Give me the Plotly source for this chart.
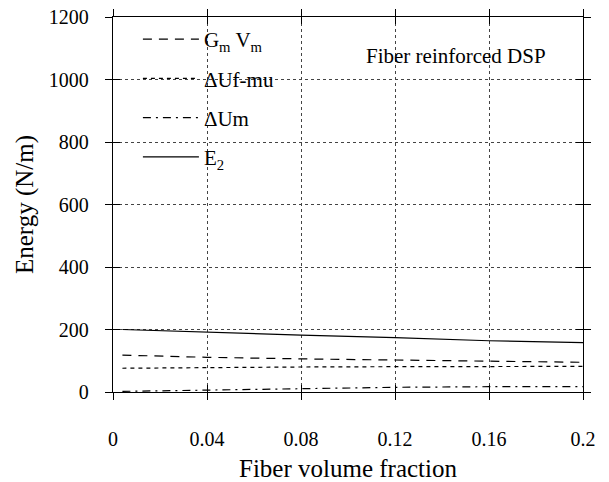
import plotly.graph_objects as go

x_vals = [0.004, 0.04, 0.08, 0.12, 0.16, 0.2]
gm_vm = [118, 111, 106, 102, 98, 95]
du_fmu = [76, 79, 80, 81, 81, 82]
du_m = [2, 6, 11, 15, 17, 17]
e2 = [200, 191, 182, 174, 164, 158]

x_ticks = [0, 0.04, 0.08, 0.12, 0.16, 0.2]
x_tick_text = ["0", "0.04", "0.08", "0.12", "0.16", "0.2"]
y_ticks = [0, 200, 400, 600, 800, 1000, 1200]

FONT = "Liberation Serif, Times New Roman, serif"

fig = go.Figure()
series = [
    ("G<sub>m</sub> V<sub>m</sub>", gm_vm, "9px,7px"),
    ("\u0394Uf-mu", du_fmu, "4px,4px"),
    ("\u0394Um", du_m, "8px,5px,2px,5px"),
    ("E<sub>2</sub>", e2, "solid"),
]
for i, (name, vals, dash) in enumerate(series):
    fig.add_trace(go.Scatter(
        x=x_vals, y=vals, mode="lines", name=name,
        line=dict(color="black", width=1.2, dash=dash),
        legendgroup=f"g{i}",
    ))

# invisible trace for inside-tick overlay axes
fig.add_trace(go.Scatter(x=[0.1], y=[600], xaxis="x2", yaxis="y2",
                         mode="markers", marker=dict(opacity=0),
                         showlegend=False, hoverinfo="skip"))

common = dict(showgrid=True, gridcolor="#444", griddash="dot", gridwidth=1,
              showline=True, linecolor="black", linewidth=1.3,
              zeroline=False, ticks="outside", ticklen=7, tickcolor="black",
              tickwidth=1.3, mirror="ticks", automargin=False,
              ticklabeloverflow="allow",
              tickfont=dict(family=FONT, size=20, color="black"))

inside = dict(showticklabels=False, ticks="inside", ticklen=7, tickcolor="black",
              tickwidth=1.3, mirror="ticks", showgrid=False, zeroline=False,
              showline=False, automargin=False)

fig.update_layout(
    width=609, height=482,
    margin=dict(l=113, r=26, t=17, b=90),
    plot_bgcolor="white", paper_bgcolor="white",
    font=dict(family=FONT, color="black"),
    xaxis=dict(range=[0, 0.2], tickvals=x_ticks, ticktext=x_tick_text,
               ticklabelstandoff=22,
               title=dict(text="Fiber volume fraction", font=dict(family=FONT, size=25), standoff=10),
               **common),
    yaxis=dict(range=[0, 1200], tickvals=y_ticks, ticklabelstandoff=12,
               title=dict(text="Energy (N/m)", font=dict(family=FONT, size=25), standoff=8),
               **common),
    xaxis2=dict(overlaying="x", anchor="y2", range=[0, 0.2], tickvals=x_ticks, **inside),
    yaxis2=dict(overlaying="y", anchor="x2", range=[0, 1200], tickvals=y_ticks, **inside),
    legend=dict(x=0.053, y=0.995, xanchor="left", yanchor="top",
                bgcolor="rgba(255,255,255,0)", borderwidth=0, itemwidth=56,
                tracegroupgap=9,
                font=dict(family=FONT, size=21, color="black")),
    showlegend=True,
    annotations=[dict(x=0.146, y=1075, xref="x", yref="y",
                      text="Fiber reinforced DSP", showarrow=False,
                      font=dict(family=FONT, size=21, color="black"))],
)

fig.write_html("out.html", config={"displayModeBar": False},
               post_script="document.body.style.margin='0px';")
